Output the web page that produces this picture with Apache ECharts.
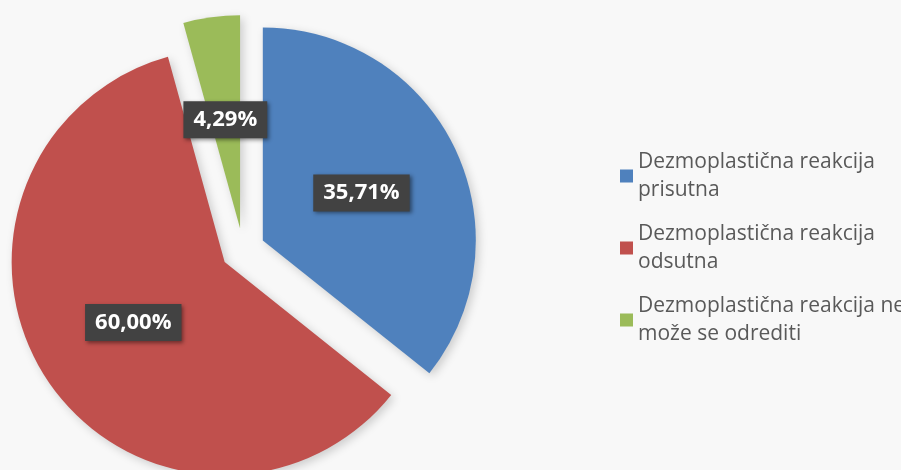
<!DOCTYPE html>
<html>
<head>
<meta charset="utf-8">
<script src="https://cdn.jsdelivr.net/npm/echarts@6/dist/echarts.min.js"></script>
<style>
  html, body { margin: 0; padding: 0; background: #f8f8f8; }
  #chart { width: 901px; height: 470px; }
</style>
</head>
<body>
<div id="chart"></div>
<script>
const categories = [
  "Dezmoplastična reakcija prisutna",
  "Dezmoplastična reakcija odsutna",
  "Dezmoplastična reakcija ne može se odrediti",
];
const legendLabels = [
  "Dezmoplastična reakcija\nprisutna",
  "Dezmoplastična reakcija\nodsutna",
  "Dezmoplastična reakcija ne\nmože se odrediti",
];
const values = [35.71, 60.0, 4.29];
const colors = ["#4f81bd", "#c0504d", "#9bbb59"];

const chart = echarts.init(document.getElementById("chart"));
const option = {
  backgroundColor: "#f8f8f8",
  animation: false,
  legend: {
    orient: "vertical",
    left: 620,
    top: 134,
    padding: 0,
    icon: "rect",
    itemWidth: 13,
    itemHeight: 13,
    itemGap: -12,
    selectedMode: false,
    data: categories,
    formatter: (name) => legendLabels[categories.indexOf(name)],
    textStyle: {
      fontFamily: "Open Sans",
      fontSize: 21,
      lineHeight: 28,
      color: "#595959",
      padding: [28, 0, 0, 0],
    },
  },
  series: [
    {
      type: "pie",
      center: [243, 250],
      radius: [0, 213],
      startAngle: 90,
      selectedMode: "multiple",
      selectedOffset: 22,
      emphasis: { disabled: true },
      itemStyle: {
        shadowBlur: 10,
        shadowColor: "rgba(0,0,0,0.18)",
        shadowOffsetX: 3,
        shadowOffsetY: 3,
      },
      label: {
        position: "inside",
        formatter: (p) => p.value.toFixed(2).replace(".", ",") + "%",
        fontFamily: "Open Sans",
        fontWeight: "bold",
        fontSize: 22,
        color: "#ffffff",
        backgroundColor: "#424242",
        padding: [7, 10, 8, 10],
        shadowBlur: 4,
        shadowColor: "rgba(0,0,0,0.45)",
        shadowOffsetX: 2,
        shadowOffsetY: 2,
      },
      labelLine: { show: false },
      data: categories.map((name, i) => ({
        name: name,
        value: values[i],
        selected: true,
        itemStyle: { color: colors[i] },
      })),
    },
  ],
};
chart.setOption(option);
</script>
</body>
</html>
